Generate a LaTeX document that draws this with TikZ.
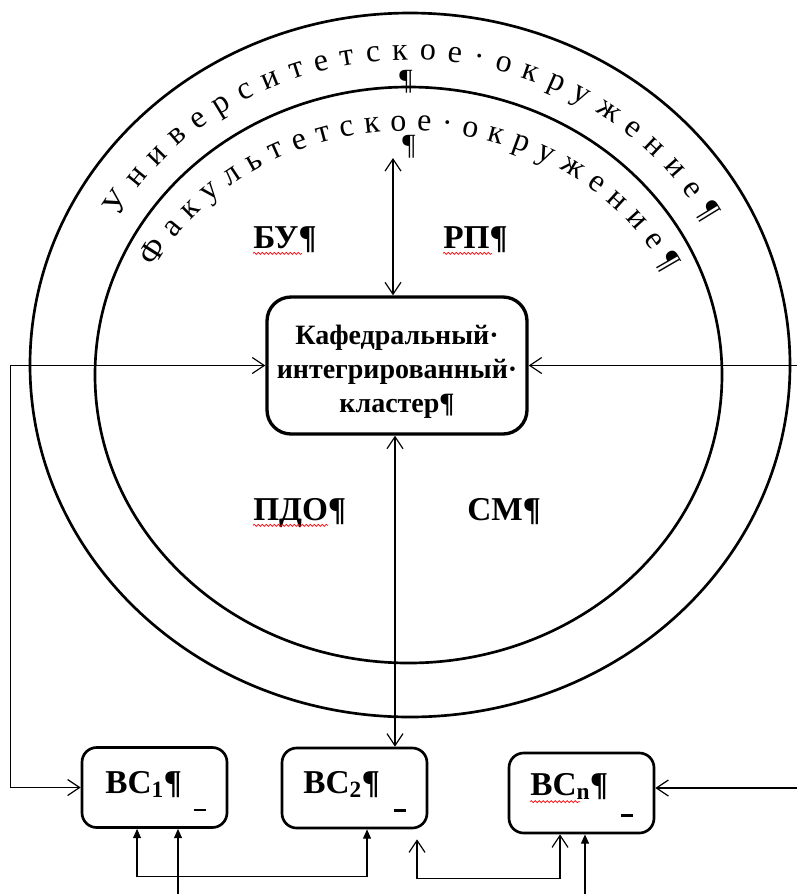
\documentclass[tikz,border=0pt]{standalone}
\usepackage{fontspec}
\setmainfont{Liberation Serif}
\usetikzlibrary{arrows.meta,calc,decorations.text,decorations.pathmorphing}

\newcommand{\arcfont}{\fontsize{24}{24}\selectfont}

\begin{document}
\begin{tikzpicture}[x=0.75pt, y=0.75pt,
		>={Straight Barb[length=9pt,width=12pt]},
		ring/.style={line width=2pt},
		link/.style={line width=0.9pt},
		hub/.style={draw, line width=2.5pt, rounded corners=18pt, minimum width=195pt,
			minimum height=102.75pt, inner sep=0pt},
		hubtext/.style={align=center, inner sep=0pt, font=\fontsize{21}{25.5}\selectfont\bfseries},
		unit/.style={draw, line width=2pt, rounded corners=11pt, minimum width=108.75pt,
			minimum height=60pt, inner sep=0pt},
		lbl/.style={anchor=base west, inner sep=0pt, font=\fontsize{25}{25}\selectfont\bfseries},
		pil/.style={inner sep=0pt, font=\fontsize{22}{22}\selectfont},
		squig/.style={red, line width=0.5pt, decorate,
			decoration={snake, amplitude=0.8pt, segment length=3pt}}]

		\useasboundingbox (0,0) rectangle (797,-894);

		% rings
		\draw [ring] (410,-365) ellipse [x radius=380, y radius=352];
		\draw [ring] (408.5,-375) ellipse [x radius=313.5, y radius=288];

		\path [decorate, decoration={text along path, text align={fit to path},
				text={|\arcfont|Университетское·окружение¶}}]
			($(410,-365)+(151:333 and 305)$) arc [start angle=151, end angle=28, x radius=333, y radius=305];
		\path [decorate, decoration={text along path, text align={fit to path},
				text={|\arcfont|Факультетское·окружение¶}}]
			($(408.5,-375)+(154:282 and 244)$) arc [start angle=154, end angle=25, x radius=282, y radius=244];

		\node [pil] (p1) at (406,-82) {¶};
		\node [pil] (p2) at (409,-147) {¶};

		% centre
		\node [hub] (cluster) at (397,-365.5) {};
		\node [hubtext] (clustertxt) at ([yshift=-5pt]cluster.center) {Кафедральный·\\интегрированный·\\кластер¶};

		\node [lbl] (bu) at (253,-248) {БУ¶};
		\node [lbl] (rp) at (443,-248) {РП¶};
		\node [lbl] (pdo) at (253,-520) {ПДО¶};
		\node [lbl] (sm) at (467,-520) {СМ¶};

		% bottom row
		\node [unit] (bc1) at (154.5,-787.5) {};
		\node [unit] (bc2) at (354.5,-788) {};
		\node [unit] (bcn) at (581.5,-793) {};
		\node [lbl] (bc1t) at (105,-793) {ВС\textsubscript{1}¶};
		\node [lbl] (bc2t) at (303,-793) {ВС\textsubscript{2}¶};
		\node [lbl] (bcnt) at (530,-795) {ВС\textsubscript{n}¶};

		\foreach \b in {bc1, bc2, bcn} {
			\draw [line width=1.8pt] ([shift={(-26pt,-17pt)}]\b.east) -- ++(12,0);
		}

		\draw [squig] ([yshift=-4pt]bu.base west) -- ++(49,0);
		\draw [squig] ([yshift=-4pt]rp.base west) -- ++(49,0);
		\draw [squig] ([yshift=-4pt]pdo.base west) -- ++(75,0);
		\draw [squig] ([yshift=-5pt]bcnt.base west) -- ++(50,0);

		% connectors
		\coordinate (topend) at (393,-158);
		\coordinate (ext1) at (797,-365.5);
		\coordinate (ext2) at (797,-788);
		\coordinate (in1) at (178,-894);
		\coordinate (in2) at (585,-894);

		\draw [link, <->] (topend) -- (topend |- cluster.north);
		\draw [link, <->] ([xshift=-1.5pt]cluster.south) -- ([xshift=-1.5pt]cluster.south |- bc2.north);
		\draw [link, <->] (cluster.west) -- ++(-255,0) |- (bc1.west);
		\draw [link, ->] (ext1) -- (cluster.east);
		\draw [link, ->] (ext2) -- (ext2 -| bcn.east);

		\draw [link, {Triangle[length=7pt,width=6pt]}-{Triangle[length=7pt,width=6pt]}]
			([xshift=-13.1pt]bc1.south) -- ++(0,-48) -| ([xshift=9.4pt]bc2.south);
		\draw [link, -{Triangle[length=7pt,width=6pt]}] (in1) -- (in1 |- bc1.south);
		\draw [link, -{Triangle[length=7pt,width=6pt]}] (in2) -- (in2 |- bcn.south);
		\draw [link, <->] ([shift={(46.9pt,-7.5pt)}]bc2.south) -- ++(0,-39) -| ([xshift=-16.1pt]bcn.south);
	\end{tikzpicture}
\end{document}
